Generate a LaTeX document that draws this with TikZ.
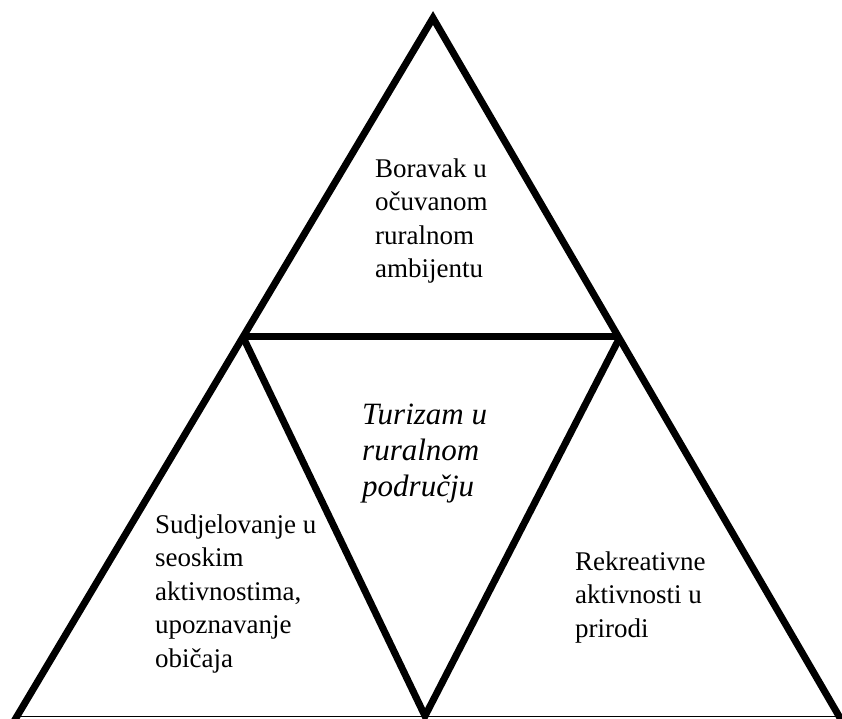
\documentclass[tikz,border=0pt]{standalone}
\usepackage{fontspec}
\setmainfont{Liberation Serif}
\begin{document}
\begin{tikzpicture}[x=1pt,y=1pt,
  edge/.style={line width=7pt, line join=miter},
  base/.style={line width=1.5pt},
  lbl/.style={anchor=north west, inner sep=0pt, align=left, font=\fontsize{27}{33.5}\selectfont},
  ctr/.style={anchor=north west, inner sep=0pt, align=left, font=\fontsize{31}{36}\selectfont\itshape}]
\useasboundingbox (0,0) rectangle (842,718);
\clip (0,0) rectangle (842,718);
\coordinate (A) at (433,700);
\coordinate (BL) at (13,-5);
\coordinate (BR) at (843,-5);
\coordinate (ML) at (243,381);
\coordinate (MR) at (620,381);
\coordinate (BM) at (425,2);
\coordinate (LL) at (14,1.5);
\coordinate (RR) at (842,1.5);
\draw[edge] (BL) -- (A) -- (BR);
\draw[edge] (ML) -- (MR);
\draw[edge] (ML) -- (BM) -- (MR);
\draw[base] (LL) -- (RR);
\node[lbl] (top) at (375,559.5) {Boravak u\\očuvanom\\ruralnom\\ambijentu};
\node[lbl] (left) at (155,203.5) {Sudjelovanje u\\seoskim\\aktivnostima,\\upoznavanje\\običaja};
\node[lbl] (right) at (575,166.5) {Rekreativne\\aktivnosti u\\prirodi};
\node[ctr] (center) at (362,314) {Turizam u\\ruralnom\\području};
\end{tikzpicture}
\end{document}
